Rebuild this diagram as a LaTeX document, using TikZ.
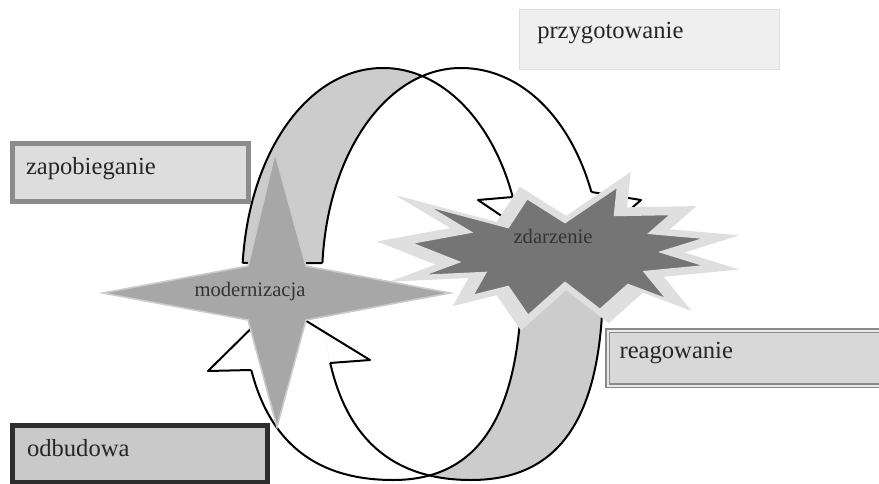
\documentclass[tikz,border=0pt]{standalone}
\usepackage{fontspec}
\setmainfont{Liberation Serif}
\usepackage{tikz}
\usetikzlibrary{intersections}

\definecolor{bandGray}{HTML}{CCCCCC}
\definecolor{crossGray}{HTML}{A7A7A7}
\definecolor{burstGray}{HTML}{757575}
\definecolor{haloGray}{HTML}{DFDFDF}
\definecolor{prepFill}{HTML}{EFEFEF}
\definecolor{prepEdge}{HTML}{DEDEDE}
\definecolor{preventFill}{HTML}{DDDDDD}
\definecolor{preventEdge}{HTML}{8C8C8C}
\definecolor{responseFill}{HTML}{D8D8D8}
\definecolor{responseEdge}{HTML}{8A8A8A}
\definecolor{recoveryFill}{HTML}{C9C9C9}
\definecolor{recoveryEdge}{HTML}{2D2D2D}

\newcommand{\loopOnePath}{(242,285) .. controls (242,410) and (288,480) .. (393,480)
    .. controls (481,480) and (522,413) .. (522,270)
    .. controls (522,158) and (460,68) .. (383,68)
    .. controls (305,68) and (242,160) .. (242,285) -- cycle}
\newcommand{\loopTwoPath}{(322,280) .. controls (322,410) and (369,480) .. (471,480)
    .. controls (561,480) and (603,416) .. (603,280)
    .. controls (603,153) and (539,68) .. (461,68)
    .. controls (384,68) and (322,160) .. (322,280) -- cycle}
\newcommand{\burstPath}{(410,243) -- (470,232) -- (425,205) -- (508,227) -- (527,198)
    -- (565,222) -- (618,186) -- (615,215) -- (672,214) -- (650,233) -- (707,238)
    -- (662,252) -- (707,266) -- (645,272) -- (668,300) -- (628,285) -- (600,310)
    -- (565,283) -- (528,316) -- (508,287) -- (472,296) -- (485,273) -- (420,276)
    -- (458,262) -- cycle}

\begin{document}
\begin{tikzpicture}[x = 0.5pt, y = -0.5pt, font = \fontsize{12.3}{14}\selectfont,
                    loopLine/.style = {draw = black, line width = 1pt, line join = round},
                    bandFill/.style = {fill = bandGray, even odd rule},
                    crossStar/.style = {fill = crossGray, draw = crossGray!60, line width = 0.8pt},
                    burstHalo/.style = {fill = haloGray},
                    burstCore/.style = {fill = burstGray, draw = haloGray, line width = 1.2pt},
                    starText/.style = {font = \fontsize{10.3}{12}\selectfont, text = black!80, inner sep = 0pt},
                    stageBox/.style = {rectangle, anchor = north west, align = left, text = black!85,
                                       inner ysep = 0pt, text depth = 6pt}]
    \useasboundingbox (0,0) rectangle (879,483);
    \clip (0,0) rectangle (879,483);

    \path[name path = loopOne] \loopOnePath;
    \path[name path = loopTwo] \loopTwoPath;

    \path[name path = cutLeftTail]  (150,263) -- (400,263);
    \path[name path = cutLeftOuter] (150,370) -- (300,370);
    \path[name path = cutLeftInner] (300,363) -- (380,363);
    \path[name path = cutRightInner] (480,197) -- (560,197);
    \path[name path = cutRightOuter] (560,192) -- (660,192);
    \path[name path = cutRightTail] (480,275) -- (660,275);

    \path[name intersections = {of = loopOne and cutLeftTail, by = leftTailOuter}];
    \path[name intersections = {of = loopTwo and cutLeftTail, by = leftTailInner}];
    \path[name intersections = {of = loopOne and cutLeftOuter, by = leftOuterBase}];
    \path[name intersections = {of = loopTwo and cutLeftInner, by = leftInnerBase}];
    \path[name intersections = {of = loopOne and cutRightInner, by = rightInnerBase}];
    \path[name intersections = {of = loopTwo and cutRightOuter, by = rightOuterBase}];
    \path[name intersections = {of = loopOne and cutRightTail, by = rightTailInner}];
    \path[name intersections = {of = loopTwo and cutRightTail, by = rightTailOuter}];

    \coordinate (leftTip)        at (277,303);
    \coordinate (leftOuterBarb)  at (208,371);
    \coordinate (leftInnerBarb)  at (370,360);
    \coordinate (rightTip)       at (570,262);
    \coordinate (rightInnerBarb) at (478,200);
    \coordinate (rightOuterBarb) at (641,200);

    \begin{scope}
        \clip (0,0) rectangle (879,263);
        \clip \loopOnePath;
        \fill[bandFill] \loopOnePath \loopTwoPath;
    \end{scope}
    \begin{scope}
        \clip (0,275) rectangle (879,483);
        \clip \loopTwoPath;
        \fill[bandFill] \loopOnePath \loopTwoPath;
    \end{scope}

    \begin{scope}
        \clip (0,0) -- (879,0) -- (879,197) -- (480,197) -- (480,275) -- (879,275) -- (879,483)
              -- (0,483) -- (0,370) -- (300,370) -- (300,263) -- (0,263) -- cycle;
        \draw[loopLine] \loopOnePath;
    \end{scope}
    \begin{scope}
        \clip (0,0) -- (879,0) -- (879,192) -- (560,192) -- (560,275) -- (879,275) -- (879,483)
              -- (0,483) -- (0,363) -- (380,363) -- (380,263) -- (0,263) -- cycle;
        \draw[loopLine] \loopTwoPath;
    \end{scope}

    \draw[loopLine] (leftTailOuter) -- (leftTailInner);
    \draw[loopLine] (rightTailInner) -- (rightTailOuter);
    \draw[loopLine] (leftOuterBase) -- (leftOuterBarb) -- (leftTip) -- (leftInnerBarb) -- (leftInnerBase);
    \draw[loopLine] (rightInnerBase) -- (rightInnerBarb) -- (rightTip) -- (rightOuterBarb) -- (rightOuterBase);

    \fill[burstHalo, scale around = {1.22:(560,250)}] \burstPath;
    \filldraw[burstCore] \burstPath;
    \filldraw[crossStar] (103,293) -- (248,266) -- (275,153) -- (306,266) -- (450,293)
                         -- (306,320) -- (277,427) -- (248,320) -- cycle;

    \node[starText] (eventText)  at (553,236) {zdarzenie};
    \node[starText] (modernText) at (250,292) {modernizacja};

    \node[stageBox, fill = prepFill, draw = prepEdge, line width = 0.75pt, minimum width = 130pt,
          minimum height = 30pt, inner xsep = 9pt, text width = 112pt, text depth = 9pt] (prepBox) at (518.5,8.5) {przygotowanie};
    \node[stageBox, fill = preventFill, draw = preventEdge, line width = 2.5pt, minimum width = 118pt,
          minimum height = 29pt, inner xsep = 7pt, text width = 104pt] (preventBox) at (9.5,140.5) {zapobieganie};
    \node[stageBox, fill = responseFill, draw = responseEdge, line width = 0.6pt, double = responseFill!60,
          double distance = 1pt, minimum width = 150pt, minimum height = 27.5pt, inner xsep = 6pt,
          text width = 138pt, text depth = 8pt] (responseBox) at (607,330) {reagowanie};
    \node[stageBox, fill = recoveryFill, draw = recoveryEdge, line width = 2.5pt, minimum width = 127.5pt,
          minimum height = 28.5pt, inner xsep = 7.5pt, text width = 112.5pt] (recoveryBox) at (9.5,422.5) {odbudowa};
\end{tikzpicture}
\end{document}
